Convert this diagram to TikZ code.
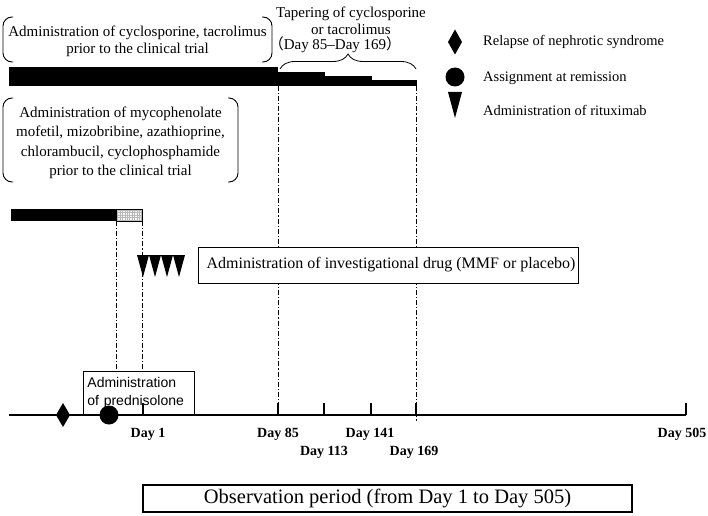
\documentclass[tikz,border=0pt]{standalone}
\usepackage{fontspec}
\setmainfont{Liberation Serif}
\setsansfont{Liberation Sans}
\newfontfamily\cjk{Noto Sans CJK JP}
\usetikzlibrary{decorations.pathreplacing}
\begin{document}
\begin{tikzpicture}[x=1pt,y=1pt,
  ddot/.style={line width=0.8pt, dash pattern=on 5pt off 2pt on 1.2pt off 2pt},
  brk/.style={line width=0.9pt, rounded corners=9pt},
  lbl/.style={font=\fontsize{15}{17}\selectfont, align=center, inner sep=0pt},
  leg/.style={font=\fontsize{14.5}{17}\selectfont, anchor=west, inner sep=0pt},
  day/.style={font=\fontsize{14}{16}\selectfont\bfseries, inner sep=0pt},
  axisline/.style={line width=2.2pt},
]
\useasboundingbox (0,0) rectangle (708,515);

% bracket box 1
\draw[brk] (13,498) -- (3,498) -- (3,453) -- (13,453);
\draw[brk] (262,498) -- (272,498) -- (272,453) -- (262,453);
\node[lbl] (cyc) at (137.5,474) {Administration of cyclosporine, tacrolimus\\prior to the clinical trial};

% tapering text and brace
\node[lbl] (tap) at (351,494.5) {Tapering of cyclosporine\\or tacrolimus};
\node[lbl] (tapdays) at (335,470) {{\cjk （}Day 85–Day 169{\cjk ）}};
\coordinate (brL) at (280,446);
\coordinate (brR) at (416,446);
\draw[line width=0.8pt, decorate, decoration={brace, amplitude=15pt}] (brL) -- (brR);

% legend
\fill (455,485.5) -- (462,473) -- (455,460.5) -- (448,473) -- cycle;
\node[leg] (l1) at (483,473) {Relapse of nephrotic syndrome};
\fill (455,438) circle (9.5);
\node[leg] (l2) at (483,437) {Assignment at remission};
\fill (448,423) -- (462,423) -- (455,397) -- cycle;
\node[leg] (l3) at (483,405) {Administration of rituximab};

% bracket box 2
\draw[brk] (13,417) -- (3,417) -- (3,333) -- (13,333);
\draw[brk] (228,417) -- (238,417) -- (238,333) -- (228,333);
\node[lbl, font=\fontsize{15}{19.5}\selectfont] (myc) at (120.5,372) {Administration of mycophenolate\\mofetil, mizobribine, azathioprine,\\chlorambucil, cyclophosphamide\\prior to the clinical trial};

% bar 1 with tapering
\fill (9,429) rectangle (278,448);
\fill (278,429) rectangle (325,443);
\fill (325,429) rectangle (372,439);
\fill (372,429) rectangle (417,435);

% bar 2
\fill (11,294) rectangle (116,306);
\fill[gray!8] (116,294) rectangle (142,306);
\draw[step=2.4pt, gray!55, line width=0.3pt] (116,294) grid (142,306);
\draw[line width=0.6pt] (116,294) rectangle (142,306);

% dash-dot guide lines
\draw[ddot] (116,294) -- (116,143);
\draw[ddot] (142.5,294) -- (142.5,143);
\draw[ddot] (278,429) -- (278,100);
\draw[ddot] (416,429) -- (416,93);

% investigational drug box
\node[draw, fill=white, line width=1pt, minimum width=380pt, minimum height=36pt, inner sep=0pt,
  font=\fontsize{16}{18}\selectfont] (inv) at (388,250) {\hspace{6pt}Administration of investigational drug (MMF or placebo)};

% rituximab triangles
\foreach \i in {0,1,2,3} {
  \fill (137+12*\i,260) -- (149+12*\i,260) -- (143+12*\i,238) -- cycle;
}

% prednisolone box
\node[draw, fill=white, line width=0.9pt, anchor=south west, minimum width=111pt, minimum height=43pt,
  text width=103pt, inner sep=4pt, align=left, font=\sffamily\fontsize{14}{18}\selectfont]
  (pred) at (83,100) {Administration\\of prednisolone};

% time axis
\draw[axisline] (9,100) -- (686,100);
\foreach \x in {143,278,324,371,416,686} {
  \draw[line width=2pt] (\x,100) -- (\x,112);
}
\fill (63,112) -- (70,100) -- (63,88) -- (56,100) -- cycle;
\fill (109,100) circle (9.5);

\node[day] (d1) at (148,81) {Day 1};
\node[day] (d85) at (278,81) {Day 85};
\node[day] (d113) at (324,63) {Day 113};
\node[day] (d141) at (370,81) {Day 141};
\node[day] (d169) at (414,63) {Day 169};
\node[day] (d505) at (682,81) {Day 505};

% observation period
\node[draw, line width=2pt, minimum width=489pt, minimum height=27pt, inner sep=0pt,
  font=\fontsize{20.5}{22}\selectfont] (obs) at (387.5,16.5) {Observation period (from Day 1 to Day 505)};
\end{tikzpicture}
\end{document}
